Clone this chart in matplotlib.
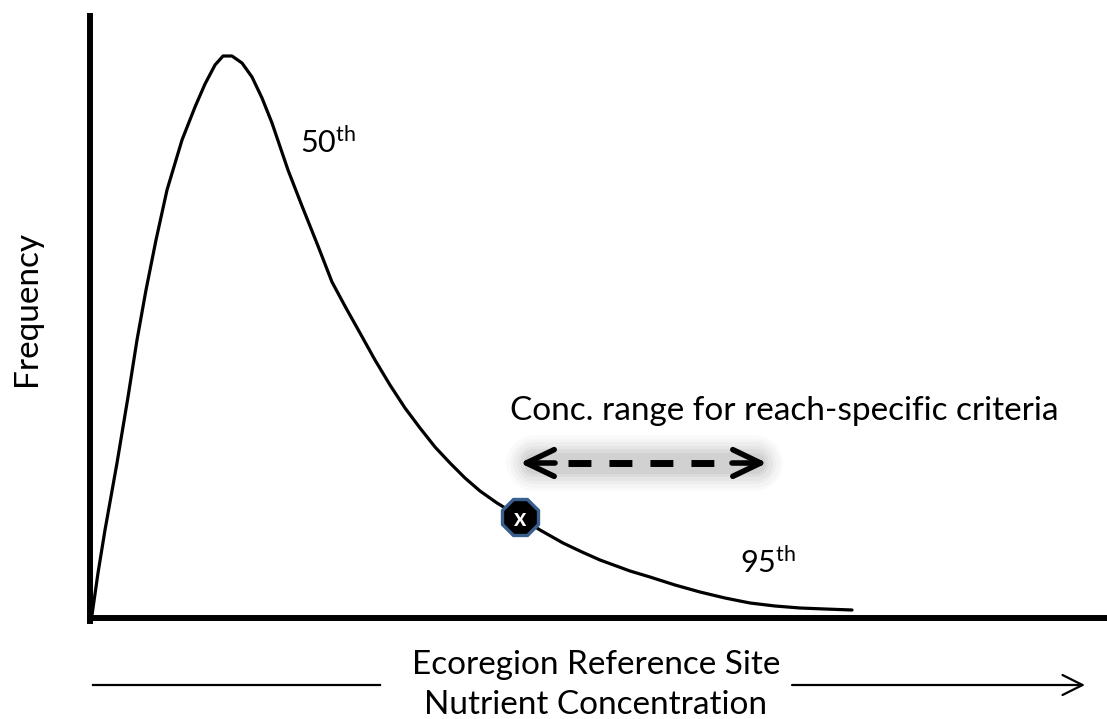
import numpy as np
import matplotlib.pyplot as plt

plt.rcParams['font.family'] = ['Lato', 'DejaVu Sans']
plt.rcParams['mathtext.fontset'] = 'custom'
plt.rcParams['mathtext.rm'] = 'Lato'

# distribution of reference site concentrations
conc = [0.02, 0.08, 0.15, 0.27, 0.38, 0.47, 0.56, 0.66, 0.77, 0.92, 1.05,
        1.15, 1.25, 1.33, 1.42, 1.52, 1.62, 1.72, 1.82, 1.98, 2.12, 2.28,
        2.42, 2.56, 2.70, 2.85, 3.00, 3.15, 3.30, 3.45, 3.60, 3.75, 3.90,
        4.07, 4.30, 4.50, 4.73, 4.92, 5.10, 5.40, 5.60, 5.85, 6.10, 6.35,
        6.60, 6.85, 7.10, 7.35, 7.62]
freq = [0.03, 0.45, 0.88, 1.55, 2.21, 2.78, 3.28, 3.78, 4.28, 4.78, 5.11,
        5.34, 5.53, 5.62, 5.62, 5.55, 5.41, 5.20, 4.95, 4.48, 4.12, 3.72,
        3.36, 3.10, 2.85, 2.58, 2.33, 2.10, 1.90, 1.71, 1.55, 1.40, 1.27,
        1.15, 1.01, 0.88, 0.75, 0.66, 0.58, 0.47, 0.41, 0.33, 0.26, 0.20,
        0.15, 0.12, 0.10, 0.09, 0.08]

site_conc, site_freq = 4.30, 1.01          # the site marked with x
range_lo, range_hi, range_y = 4.30, 6.77, 1.55

fig = plt.figure(figsize=(11.07, 7.19), dpi=100)
ax = fig.add_axes([0, 0, 1, 1])
ax.set_xlim(-0.90, 10.17)
ax.set_ylim(-1.01, 6.18)

for s in ['top', 'right']:
    ax.spines[s].set_visible(False)
ax.spines['left'].set_position(('data', 0))
ax.spines['bottom'].set_position(('data', 0))
ax.spines['left'].set_bounds(-0.03, 6.02)
ax.spines['bottom'].set_bounds(0, 10.17)
ax.spines['left'].set_linewidth(4.3)
ax.spines['bottom'].set_linewidth(4.3)
ax.set_xticks([])
ax.set_yticks([])
ax.patch.set_visible(False)

ax.plot(conc, freq, color='black', lw=2.3, solid_joinstyle='round',
        solid_capstyle='round')

# soft glow behind the range arrow
for lw, a in [(40, 0.04), (35, 0.05), (30, 0.06), (25, 0.08),
              (20, 0.10), (15, 0.12)]:
    ax.plot([range_lo + 0.14, range_hi - 0.12], [range_y, range_y],
            color='#8a8a8a', lw=lw, alpha=a, solid_capstyle='round')

ax.plot([range_lo + 0.48, range_hi - 0.50], [range_y, range_y],
        color='black', lw=5, dashes=(3.3, 2.6))
for tip, back in [(range_lo, range_lo + 0.35), (range_hi, range_hi - 0.35)]:
    ax.annotate('', xy=(tip, range_y), xytext=(back, range_y),
                arrowprops=dict(arrowstyle='->,head_length=1.25,head_width=0.6',
                                lw=4, color='black', shrinkA=0, shrinkB=0,
                                mutation_scale=16))

ax.plot(site_conc, site_freq, marker='8', ms=28, mfc='black',
        mec='#3a5f8f', mew=2.4, zorder=5)
ax.text(site_conc, site_freq - 0.01, 'x', color='white', fontsize=17,
        fontweight='bold', ha='center', va='center', zorder=6)

ax.text(4.20, 1.98, 'Conc. range for reach-specific criteria', fontsize=24,
        ha='left', va='baseline')
ax.text(2.10, 4.65, r'50$^{\mathrm{th}}$', fontsize=22, va='baseline')
ax.text(6.50, 0.45, r'95$^{\mathrm{th}}$', fontsize=22, va='baseline')

ax.text(-0.63, 3.10, 'Frequency', fontsize=24, rotation=90,
        ha='center', va='center')
ax.text(5.06, -0.56, 'Ecoregion Reference Site', fontsize=24,
        ha='center', va='baseline')
ax.text(5.06, -0.96, 'Nutrient Concentration', fontsize=24,
        ha='center', va='baseline')

ax.plot([0.03, 2.90], [-0.67, -0.67], color='black', lw=1.6, clip_on=False)
ax.annotate('', xy=(9.95, -0.67), xytext=(7.02, -0.67),
            arrowprops=dict(arrowstyle='->,head_length=0.9,head_width=0.45',
                            lw=1.6, color='black', shrinkA=0, shrinkB=0,
                            mutation_scale=16))

fig.savefig('out.png', dpi=100)
